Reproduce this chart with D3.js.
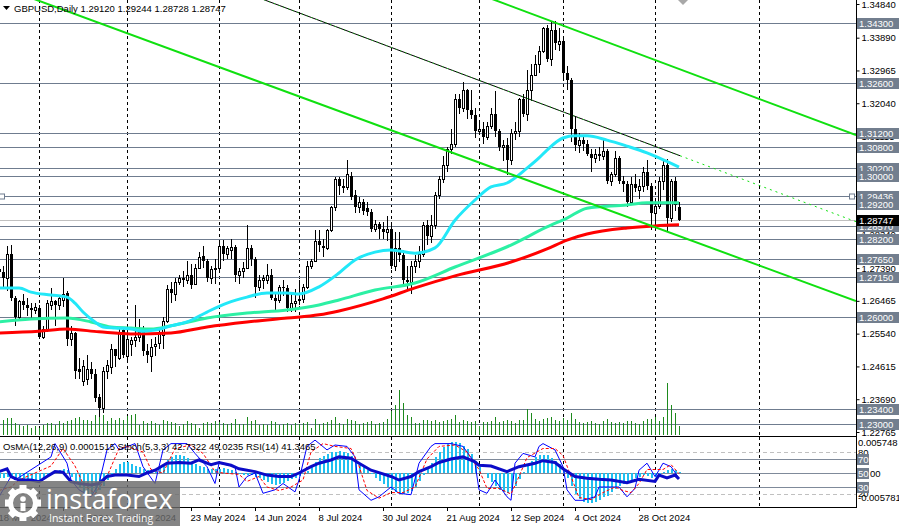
<!DOCTYPE html>
<html>
<head>
<meta charset="utf-8">
<script src="https://cdn.jsdelivr.net/npm/d3@7"></script>
<style>
  body { margin: 0; background: #fff; }
  svg { display: block; font-family: "Liberation Sans", Arial, sans-serif; }
</style>
</head>
<body>
<svg id="chart" width="899" height="526"></svg>
<script>
// ---- data (bar 0 = 18 Mar 2024, bar 170 = 11 Nov 2024)
const opens = [1.2735,1.2728,1.2712,1.2780,1.2655,1.2600,1.2645,1.2635,1.2625,1.2620,
  1.2625,1.2545,1.2568,1.2635,1.2645,1.2635,1.2650,1.2670,1.2540,1.2555,
  1.2455,1.2420,1.2425,1.2455,1.2440,1.2375,1.2345,1.2450,1.2460,1.2510,
  1.2485,1.2565,1.2490,1.2525,1.2535,1.2545,1.2560,1.2505,1.2490,1.2518,
  1.2528,1.2550,1.2590,1.2680,1.2665,1.2700,1.2710,1.2705,1.2720,1.2695,
  1.2740,1.2772,1.2760,1.2710,1.2735,1.2740,1.2800,1.2780,1.2790,1.2798,
  1.2720,1.2730,1.2740,1.2795,1.2765,1.2685,1.2705,1.2705,1.2720,1.2655,
  1.2650,1.2685,1.2682,1.2625,1.2640,1.2650,1.2652,1.2685,1.2745,1.2760,
  1.2815,1.2800,1.2795,1.2845,1.2910,1.2990,1.2970,1.2968,1.3000,1.2945,
  1.2910,1.2925,1.2908,1.2897,1.2850,1.2862,1.2850,1.2840,1.2850,1.2745,
  1.2795,1.2775,1.2705,1.2700,1.2745,1.2760,1.2780,1.2860,1.2830,1.2860,
  1.2945,1.2990,1.3030,1.3075,1.3090,1.3215,1.3190,1.3240,1.3185,1.3170,
  1.3125,1.3130,1.3110,1.3140,1.3175,1.3125,1.3080,1.3085,1.3045,1.3120,
  1.3125,1.3215,1.3175,1.3240,1.3285,1.3315,1.3350,1.3415,1.3330,1.3410,
  1.3372,1.3380,1.3290,1.3270,1.3130,1.3085,1.3100,1.3090,1.3060,1.3050,
  1.3060,1.3055,1.3070,1.2985,1.3005,1.3050,1.2985,1.2975,1.2925,1.2975,
  1.2960,1.2970,1.3010,1.2970,1.2895,1.2915,1.2985,1.3030,1.2880,1.2985,
  1.29120];
const highs = [1.2745,1.2745,1.2800,1.2804,1.2660,1.2650,1.2665,1.2655,1.2640,1.2640,
  1.2635,1.2575,1.2650,1.2683,1.2650,1.2660,1.2710,1.2675,1.2575,1.2560,
  1.2485,1.2480,1.2495,1.2475,1.2455,1.2385,1.2460,1.2480,1.2525,1.2512,
  1.2570,1.2570,1.2550,1.2545,1.2635,1.2595,1.2575,1.2525,1.2540,1.2545,
  1.2565,1.2600,1.2690,1.2700,1.2710,1.2720,1.2730,1.2760,1.2750,1.2750,
  1.2785,1.2800,1.2765,1.2745,1.2765,1.2815,1.2818,1.2800,1.2820,1.2805,
  1.2740,1.2755,1.2860,1.2805,1.2770,1.2720,1.2720,1.2750,1.2735,1.2670,
  1.2690,1.2705,1.2690,1.2665,1.2680,1.2705,1.2695,1.2760,1.2765,1.2845,
  1.2845,1.2820,1.2850,1.2915,1.2995,1.2995,1.2990,1.3045,1.3010,1.2960,
  1.2940,1.2935,1.2925,1.2905,1.2875,1.2870,1.2870,1.2885,1.2860,1.2840,
  1.2840,1.2790,1.2745,1.2760,1.2775,1.2800,1.2870,1.2875,1.2890,1.2955,
  1.3000,1.3055,1.3080,1.3130,1.3230,1.3230,1.3265,1.3245,1.3240,1.3190,
  1.3150,1.3150,1.3150,1.3190,1.3238,1.3130,1.3100,1.3105,1.3130,1.3150,
  1.3220,1.3230,1.3298,1.3315,1.3340,1.3365,1.3420,1.3425,1.3434,1.3435,
  1.3415,1.3390,1.3310,1.3275,1.3165,1.3120,1.3115,1.3100,1.3075,1.3075,
  1.3080,1.3100,1.3075,1.3010,1.3070,1.3055,1.3000,1.2985,1.2995,1.3005,
  1.2990,1.3025,1.3043,1.2980,1.2935,1.2995,1.3045,1.3047,1.2990,1.2995,
  1.29244];
const lows = [1.2705,1.2685,1.2675,1.2645,1.2575,1.2590,1.2620,1.2605,1.2595,1.2610,
  1.2538,1.2540,1.2560,1.2620,1.2575,1.2620,1.2630,1.2520,1.2520,1.2425,
  1.2425,1.2405,1.2410,1.2425,1.2360,1.2318,1.2330,1.2425,1.2440,1.2460,
  1.2480,1.2485,1.2470,1.2490,1.2515,1.2530,1.2490,1.2470,1.2445,1.2490,
  1.2510,1.2510,1.2585,1.2640,1.2645,1.2690,1.2685,1.2695,1.2680,1.2690,
  1.2735,1.2740,1.2700,1.2695,1.2695,1.2730,1.2760,1.2765,1.2765,1.2700,
  1.2695,1.2710,1.2735,1.2745,1.2655,1.2675,1.2680,1.2695,1.2650,1.2620,
  1.2640,1.2660,1.2615,1.2615,1.2615,1.2635,1.2640,1.2680,1.2735,1.2755,
  1.2785,1.2770,1.2790,1.2840,1.2900,1.2945,1.2950,1.2960,1.2930,1.2895,
  1.2895,1.2890,1.2885,1.2840,1.2840,1.2820,1.2820,1.2815,1.2735,1.2730,
  1.2755,1.2695,1.2680,1.2665,1.2725,1.2740,1.2770,1.2805,1.2810,1.2850,
  1.2935,1.2980,1.3010,1.3060,1.3080,1.3175,1.3180,1.3160,1.3160,1.3105,
  1.3115,1.3090,1.3100,1.3130,1.3110,1.3070,1.3040,1.3002,1.3030,1.3100,
  1.3110,1.3165,1.3155,1.3210,1.3280,1.3290,1.3345,1.3320,1.3310,1.3355,
  1.3350,1.3275,1.3240,1.3095,1.3070,1.3065,1.3070,1.3055,1.3010,1.3035,
  1.3040,1.3045,1.2975,1.2970,1.2995,1.2975,1.2955,1.2910,1.2920,1.2955,
  1.2935,1.2955,1.2960,1.2845,1.2860,1.2905,1.2960,1.2840,1.2870,1.2900,
  1.28728];
const closes = [1.2728,1.2712,1.2780,1.2655,1.2600,1.2645,1.2635,1.2625,1.2620,1.2630,
  1.2545,1.2568,1.2640,1.2645,1.2635,1.2655,1.2665,1.2540,1.2555,1.2450,
  1.2445,1.2462,1.2455,1.2440,1.2372,1.2345,1.2450,1.2465,1.2510,1.2490,
  1.2560,1.2495,1.2540,1.2535,1.2545,1.2560,1.2505,1.2495,1.2515,1.2525,
  1.2555,1.2590,1.2680,1.2670,1.2700,1.2710,1.2705,1.2720,1.2690,1.2740,
  1.2770,1.2760,1.2710,1.2735,1.2740,1.2800,1.2780,1.2795,1.2798,1.2720,
  1.2730,1.2740,1.2795,1.2765,1.2685,1.2705,1.2710,1.2720,1.2655,1.2645,
  1.2685,1.2682,1.2625,1.2640,1.2645,1.2652,1.2685,1.2745,1.2760,1.2815,
  1.2805,1.2795,1.2845,1.2910,1.2990,1.2970,1.2965,1.3005,1.2940,1.2910,
  1.2925,1.2900,1.2897,1.2850,1.2862,1.2850,1.2840,1.2850,1.2745,1.2795,
  1.2775,1.2705,1.2700,1.2745,1.2760,1.2780,1.2860,1.2830,1.2860,1.2945,
  1.2990,1.3030,1.3075,1.3090,1.3215,1.3190,1.3240,1.3185,1.3170,1.3125,
  1.3130,1.3110,1.3140,1.3175,1.3125,1.3080,1.3085,1.3045,1.3120,1.3125,
  1.3215,1.3175,1.3240,1.3285,1.3315,1.3350,1.3415,1.3330,1.3410,1.3375,
  1.3380,1.3290,1.3270,1.3130,1.3085,1.3100,1.3090,1.3060,1.3050,1.3060,
  1.3055,1.3070,1.2985,1.3005,1.3050,1.2985,1.2975,1.2925,1.2975,1.2965,
  1.2970,1.3010,1.2970,1.2895,1.2915,1.2985,1.3030,1.2880,1.2985,1.2918,
  1.28747];
// tick volume, thousands
const volumes = [15,15,17,17,12,10,9,10,7,9,7,10,12,12,10,14,12,14,15,17,
  18,15,15,14,20,20,20,14,17,15,17,15,19,20,21,10,14,12,14,12,
  10,15,14,13,12,9,11,14,12,11,7,12,13,12,14,13,12,11,12,16,
  11,11,18,14,15,10,11,10,14,13,10,11,12,10,12,11,12,13,7,16,
  11,12,13,15,18,12,11,16,15,14,11,12,13,14,11,12,13,16,24,30,
  45,32,20,18,12,12,15,15,14,15,13,14,15,16,20,13,15,14,13,14,
  9,13,13,14,18,13,14,15,14,12,15,15,26,22,16,14,16,17,18,15,
  14,17,15,22,16,13,12,13,14,12,11,14,16,13,12,13,12,14,14,12,
  11,14,16,16,18,14,18,52,30,22,9];

// moving averages, sampled at bar indices
const ma50Idx = [0,5,8,13,17,19,21,24,26,29,33,36,39,43,47,52,57,62,67,72,75,80,85,89,94,98,104,109,114,119,123,127,132,135,137,141,144,147,152,157,162,165,170];
const ma50 = [1.2683,1.2683,1.2671,1.2663,1.2657,1.2640,1.2615,1.2587,1.2573,1.2570,1.2567,1.2561,1.2564,1.2576,1.2587,1.2615,1.2640,1.2657,1.2669,1.2669,1.2666,1.2686,1.2725,1.2762,1.2784,1.2790,1.2781,1.2796,1.2874,1.2931,1.2968,1.2979,1.3021,1.3050,1.3072,1.3106,1.3112,1.3112,1.3100,1.3083,1.3064,1.3050,1.3024];
const ma100Idx = [0,8,17,23,28,33,38,43,52,62,72,80,85,94,104,114,128,137,142,147,157,162,170];
const ma100 = [1.2587,1.2595,1.2598,1.2587,1.2573,1.2570,1.2567,1.2576,1.2598,1.2612,1.2621,1.2635,1.2649,1.2677,1.2697,1.2742,1.2804,1.2855,1.2880,1.2908,1.2917,1.2923,1.2923];
const ma200Idx = [0,10,17,25,33,43,52,62,72,80,85,96,104,114,128,137,142,147,157,164,170];
const ma200 = [1.2556,1.2561,1.2567,1.2559,1.2553,1.2556,1.2573,1.2587,1.2598,1.2607,1.2618,1.2652,1.2683,1.2717,1.2756,1.2793,1.2818,1.2835,1.2852,1.2858,1.2861];

// oscillators
const osma = [-9,-9,-7,-9,-12,-13,-14,-14,-13,-12,-11,-9,-5,-1,2,4,6,5,-6,-14,
  -24,-32,-36,-36,-33,-28,-22,-12,-2,6,14,18,18,15,12,9,6,4,3,4,
  8,14,22,27,30,30,28,24,18,14,12,10,7,6,6,7,8,7,5,2,
  -1,-3,-3,-4,-6,-9,-12,-15,-18,-20,-19,-16,-13,-10,-8,-5,-2,3,10,18,
  24,28,31,34,35,36,35,33,28,22,16,10,4,-2,-8,-14,-19,-23,-28,-31,
  -33,-34,-33,-30,-24,-14,-3,8,17,26,35,42,48,51,51,49,45,40,31,20,
  10,0,-8,-15,-22,-28,-32,-33,-30,-22,-10,2,12,20,26,29,30,29,25,20,
  14,5,-8,-22,-35,-43,-48,-50,-50,-48,-45,-40,-38,-32,-26,-22,-18,-16,-12,-9,
  -6,-4,-5,-8,-6,-3,2,5,6,4,1.515]; // x 1e-4
const rsiIdx = [0,2,3,5,8,10,12,14,16,18,20,23,25,27,29,32,35,37,39,42,45,48,50,53,55,58,60,64,67,70,73,75,78,80,83,85,88,90,93,95,98,100,103,105,108,110,113,116,119,120,123,127,130,134,136,139,141,144,147,150,153,157,160,164,165,167,169,170];
const rsi = [52,56,45,40,40,37.6,45,52,51,37.6,35,33,35,45,47,47,45,50,54,64,65,64,68.6,62,65,61,56,52,47,45,45,50,59,64,68.6,73,71,64,54,50.5,45,40,45,52,59,65,70,73,66,61,60,52,59,64,67.6,65,56,45,42.4,41,40,36,41,38,47,43,47,41.3465];
const stochIdx = [0,3,4,13,14,17,18,20,23,25,27,29,30,34,36,39,41,43,47,49,52,54,55,59,60,62,64,66,69,71,74,75,77,79,82,84,87,89,90,93,95,98,100,103,105,108,109,112,113,116,119,120,122,124,127,128,129,131,134,135,136,139,141,142,144,146,149,150,153,155,157,159,160,162,164,165,166,168,170];
const stochMain = [16,45,40,73,92,64,40,26,16,35,83,92,83,92,59,35,83,92,92,78,59,35,64,59,30,45,50,21,26,35,23,40,88,97,83,90,88,73,26,11,16,30,21,19,64,88,92,92,92,88,64,26,21,40,16,11,64,78,73,88,92,83,59,26,11,11,16,30,30,30,16,28,54,64,45,54,64,59,42.7322];
const signalIdx = [0,3,5,13,16,19,21,24,27,30,32,36,38,41,44,48,51,54,56,60,62,65,67,70,73,76,78,81,84,88,90,92,95,98,101,104,107,110,114,117,120,122,125,128,130,132,136,139,141,143,145,148,151,154,156,158,160,162,164,166,168,170];
const stochSignal = [25,30,40,60,85,60,35,20,45,85,88,80,55,50,85,90,78,52,50,48,38,45,30,25,30,40,80,92,88,85,60,25,14,22,22,30,70,88,90,80,55,28,28,20,45,72,85,85,75,45,15,12,22,30,25,22,35,55,55,55,62,49.0235];

// levels, ticks, labels
const levels = [1.34300,1.32600,1.31200,1.30800,1.30200,1.30000,1.29436,1.29200,1.28570,1.28200,1.27650,1.27150,1.26000,1.23400,1.23000];
const priceTicks = [1.34840,1.33890,1.32965,1.32040,1.31115,1.30190,1.29265,1.28340,1.27390,1.26465,1.25540,1.24615,1.23690,1.22765];
const dateIdx = [0,16,32,48,64,80,96,112,128,144,160];
const dateLabels = ["18 Mar 2024","9 Apr 2024","1 May 2024","23 May 2024","14 Jun 2024","8 Jul 2024","30 Jul 2024","21 Aug 2024","12 Sep 2024","4 Oct 2024","28 Oct 2024"];
const monthStartIdx = [10,32,55,75,98,120,141,164,190];
// trend lines: [bar, price] pairs
const trendA = [[9.5,1.3495],[214.25,1.2646]];
const trendC = [[124,1.3495],[214.25,1.3114]];
const trendD = [[66.5,1.3495],[170.25,1.3056]];
const trendDExt = 214.25;

// ---- scales
const svg = d3.select("#chart");
const R = 856;
const x = d3.scaleLinear().domain([0, 214.25]).range([-1, R]);
const y = d3.scaleLinear().domain([1.22765, 1.34840]).range([432, 4]);
const yVol = d3.scaleLinear().domain([0, 60]).range([435, 375]);
const yInd = d3.scaleLinear().domain([0, 100]).range([508, 438]);
const yOsma = d3.scaleLinear().domain([-0.005781, 0.005748]).range([508, 438]);
const fmt5 = d3.format(".5f");
const cx = i => Math.round(x(i));

const defs = svg.append("defs");
defs.append("clipPath").attr("id", "mainClip").append("rect").attr("x", 0).attr("y", 0).attr("width", R).attr("height", 436);
defs.append("clipPath").attr("id", "indClip").append("rect").attr("x", 0).attr("y", 437).attr("width", R).attr("height", 70);

const main = svg.append("g").attr("clip-path", "url(#mainClip)");
const ind = svg.append("g").attr("clip-path", "url(#indClip)");

// vertical month grid
[[main, 0, 436], [ind, 437, 508]].forEach(([g, y0, y1]) => {
  g.selectAll(null).data(monthStartIdx).join("line")
    .attr("x1", d => cx(d) + 0.5).attr("x2", d => cx(d) + 0.5)
    .attr("y1", y0).attr("y2", y1)
    .attr("stroke", "#000").attr("stroke-dasharray", "3,3").attr("shape-rendering", "crispEdges");
});

// horizontal levels
main.selectAll(null).data(levels).join("line")
  .attr("x1", 0).attr("x2", R).attr("y1", d => Math.round(y(d)) + 0.5).attr("y2", d => Math.round(y(d)) + 0.5)
  .attr("stroke", "#6f7c8f").attr("shape-rendering", "crispEdges");
const last = closes.length - 1;
main.append("line").attr("x1", 0).attr("x2", R)
  .attr("y1", Math.round(y(closes[last])) + 0.5).attr("y2", Math.round(y(closes[last])) + 0.5)
  .attr("stroke", "#c0c0c0").attr("shape-rendering", "crispEdges");
// small anchors of the 1.29436 line
[2, R - 4].forEach(px => {
  main.append("rect").attr("x", px - 2.5).attr("y", Math.round(y(levels[6])) - 2)
    .attr("width", 5).attr("height", 5).attr("fill", "#fff").attr("stroke", "#6f7c8f");
});

// volumes
main.selectAll(null).data(volumes).join("line")
  .attr("x1", (d, i) => cx(i) + 0.5).attr("x2", (d, i) => cx(i) + 0.5)
  .attr("y1", yVol(0)).attr("y2", d => yVol(d))
  .attr("stroke", "#1d8a1d").attr("shape-rendering", "crispEdges");

// candles
const candles = main.append("g").attr("shape-rendering", "crispEdges");
closes.forEach((c, i) => {
  const o = opens[i], xx = cx(i);
  candles.append("line").attr("x1", xx + 0.5).attr("x2", xx + 0.5)
    .attr("y1", y(highs[i])).attr("y2", y(lows[i])).attr("stroke", "#000");
  const top = Math.round(y(Math.max(o, c))), bot = Math.round(y(Math.min(o, c)));
  if (c >= o) {
    candles.append("rect").attr("x", xx - 0.5).attr("y", top + 0.5)
      .attr("width", 2).attr("height", Math.max(bot - top, 0))
      .attr("fill", "#fff").attr("stroke", "#000");
  } else {
    candles.append("rect").attr("x", xx - 1).attr("y", top)
      .attr("width", 3).attr("height", Math.max(bot - top, 1)).attr("fill", "#000");
  }
});

// moving averages
const maLine = d3.line().x(d => x(d[0])).y(d => y(d[1])).curve(d3.curveMonotoneX);
[[ma200Idx, ma200, "#ff0000"], [ma100Idx, ma100, "#2cf0a4"], [ma50Idx, ma50, "#22e8f8"]].forEach(([idx, v, col]) => {
  main.append("path").attr("d", maLine(idx.map((k, j) => [k, v[j]])))
    .attr("fill", "none").attr("stroke", col).attr("stroke-width", 3);
});

// trend lines
const extend = (pts, i0, i1) => {
  const [[a, pa], [b, pb]] = pts, s = (pb - pa) / (b - a);
  return [[i0, pa + (i0 - a) * s], [i1, pa + (i1 - a) * s]];
};
const tl = d3.line().x(d => x(d[0])).y(d => y(d[1]));
main.append("path").attr("d", tl(extend(trendA, -2, 214.25))).attr("stroke", "#10e010").attr("stroke-width", 2).attr("fill", "none");
main.append("path").attr("d", tl(extend(trendC, 100, 214.25))).attr("stroke", "#10e010").attr("stroke-width", 2).attr("fill", "none");
main.append("path").attr("d", tl(extend(trendD, 50, trendD[1][0]))).attr("stroke", "#000").attr("stroke-width", 1).attr("fill", "none");
main.append("path").attr("d", tl(extend(trendD, 50, trendD[1][0]))).attr("stroke", "#10e010").attr("stroke-width", 1).attr("stroke-dasharray", "1,4").attr("fill", "none");
main.append("path").attr("d", tl(extend(trendD, trendD[1][0], trendDExt))).attr("stroke", "#10e010").attr("stroke-width", 1).attr("stroke-dasharray", "2,4").attr("fill", "none");

// shift marker
main.append("path").attr("d", "M678,0L688,0L683,5Z").attr("fill", "#a8a8a8");

// ---- indicator window
ind.selectAll(null).data([80, 20]).join("line")
  .attr("x1", 0).attr("x2", R).attr("y1", d => Math.round(yInd(d)) + 0.5).attr("y2", d => Math.round(yInd(d)) + 0.5)
  .attr("stroke", "#c0c0c0").attr("stroke-dasharray", "4,3").attr("shape-rendering", "crispEdges");
ind.selectAll(null).data([70, 50, 30]).join("line")
  .attr("x1", 0).attr("x2", R).attr("y1", d => Math.round(yInd(d)) + 0.5).attr("y2", d => Math.round(yInd(d)) + 0.5)
  .attr("stroke", "#7f8a9a").attr("shape-rendering", "crispEdges");
ind.selectAll(null).data(osma).join("rect")
  .attr("x", (d, i) => cx(i) - 0.5).attr("width", 2)
  .attr("y", d => Math.min(yOsma(0), yOsma(d * 1e-4)))
  .attr("height", d => Math.abs(yOsma(d * 1e-4) - yOsma(0)))
  .attr("fill", "#1ec0f0").attr("shape-rendering", "crispEdges");
const indLine = d3.line().x(d => x(d[0])).y(d => yInd(d[1]));
ind.append("path").attr("d", indLine(stochIdx.map((k, j) => [k, stochMain[j]])))
  .attr("fill", "none").attr("stroke", "#0000ff").attr("stroke-width", 1);
ind.append("path").attr("d", indLine(signalIdx.map((k, j) => [k, stochSignal[j]])))
  .attr("fill", "none").attr("stroke", "#ff0000").attr("stroke-width", 1).attr("stroke-dasharray", "3,2");
ind.append("path").attr("d", indLine(rsiIdx.map((k, j) => [k, rsi[j]])))
  .attr("fill", "none").attr("stroke", "#0c0cc8").attr("stroke-width", 3);

// borders
svg.append("line").attr("x1", 0).attr("x2", R + 0.5).attr("y1", 436.5).attr("y2", 436.5).attr("stroke", "#000");
svg.append("line").attr("x1", 0).attr("x2", R + 0.5).attr("y1", 507.5).attr("y2", 507.5).attr("stroke", "#000");

// ---- price axis
const pAxis = svg.append("g").attr("transform", `translate(${R + 0.5},0)`)
  .call(d3.axisRight(y).tickValues(priceTicks).tickFormat(fmt5).tickSize(3).tickPadding(2));
pAxis.select(".domain").remove();
pAxis.selectAll("text").attr("font-size", 9.5).attr("font-family", "Liberation Sans, Arial").attr("fill", "#000");
pAxis.selectAll("line").attr("stroke", "#000");
svg.append("line").attr("x1", R + 0.5).attr("x2", R + 0.5).attr("y1", 0).attr("y2", 508).attr("stroke", "#000");

const box = (val, fill, txt, yy, w) => {
  svg.append("rect").attr("x", 857).attr("y", Math.round(yy) - 5).attr("width", w).attr("height", 11).attr("fill", fill);
  svg.append("text").attr("x", 859).attr("y", Math.round(yy) + 4).attr("font-size", 9.5).attr("fill", "#fff").text(txt);
};
levels.forEach(p => box(p, "#727e8e", fmt5(p), y(p), 42));
box(closes[last], "#000", fmt5(closes[last]), y(closes[last]), 42);

// indicator scale labels
const lab = (t, yy) => svg.append("text").attr("x", 858).attr("y", yy).attr("font-size", 9.5).attr("fill", "#000").text(t);
lab("0.005748", 446);
lab("80", yInd(80) + 4);
lab("20", yInd(20) + 3);
lab("-0.005781", 501);
lab("00", yOsma(0) + 4).attr("x", 870);
[70, 50, 30].forEach(v => {
  svg.append("rect").attr("x", 857).attr("y", Math.round(yInd(v)) - 5).attr("width", 12).attr("height", 11).attr("fill", "#727e8e");
  svg.append("text").attr("x", 858).attr("y", Math.round(yInd(v)) + 4).attr("font-size", 9.5).attr("fill", "#fff").text(v);
});

// ---- date axis
const dAxis = svg.append("g").attr("transform", "translate(0,508)")
  .call(d3.axisBottom(x).tickValues(dateIdx).tickFormat((d, k) => dateLabels[k]).tickSize(3).tickPadding(3));
dAxis.select(".domain").remove();
dAxis.selectAll("text").attr("text-anchor", "start").attr("dx", -1)
  .attr("font-size", 9.5).attr("font-family", "Liberation Sans, Arial").attr("fill", "#000");
dAxis.selectAll("line").attr("stroke", "#000");

// ---- header texts
svg.append("path").attr("d", "M3,6L10,6L6.5,10Z").attr("fill", "#000");
svg.append("text").attr("x", 14).attr("y", 12).attr("font-size", 9.5).attr("fill", "#000")
  .text(`GBPUSD,Daily  ${fmt5(opens[last])} ${fmt5(highs[last])} ${fmt5(lows[last])} ${fmt5(closes[last])}`);
svg.append("text").attr("x", 3).attr("y", 450).attr("font-size", 9.5).attr("fill", "#000")
  .text(`OsMA(12,26,9) ${d3.format(".7f")(osma[last] * 1e-4)}  Stoch(5,3,3) ${d3.format(".4f")(stochMain[stochMain.length - 1])} ${d3.format(".4f")(stochSignal[stochSignal.length - 1])}  RSI(14) ${d3.format(".4f")(rsi[rsi.length - 1])}`);

// ---- watermark
const logo = svg.append("g");
logo.append("rect").attr("x", 0).attr("y", 481).attr("width", 180).attr("height", 45).attr("fill", "#6a6a6a").attr("opacity", 0.82);
const gear = logo.append("g").attr("transform", "translate(23,503)").attr("fill", "#fff");
d3.range(8).forEach(k => {
  gear.append("rect").attr("x", -3.5).attr("y", -18).attr("width", 7).attr("height", 8)
    .attr("transform", `rotate(${k * 45})`);
});
gear.append("circle").attr("r", 12.5).attr("fill", "none").attr("stroke", "#fff").attr("stroke-width", 5);
gear.append("circle").attr("cy", -4).attr("r", 2.8);
gear.append("rect").attr("x", -2.5).attr("y", 0).attr("width", 5).attr("height", 8);
logo.append("text").attr("x", 46).attr("y", 509).attr("font-family", "Open Sans, sans-serif").attr("font-size", 27)
  .attr("fill", "#fff").text("instaforex");
logo.append("text").attr("x", 49).attr("y", 522).attr("font-family", "Open Sans, sans-serif").attr("font-size", 10.5)
  .attr("fill", "#fff").text("Instant Forex Trading");
</script>
</body>
</html>
